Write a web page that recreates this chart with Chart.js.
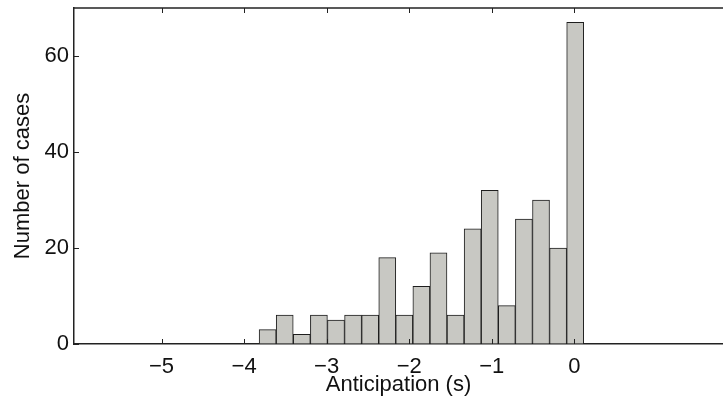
<!DOCTYPE html>
<html>
<head>
<meta charset="utf-8">
<script src="https://cdn.jsdelivr.net/npm/chart.js@4.4.1/dist/chart.umd.min.js"></script>
<style>
    html, body { margin: 0; padding: 0; background: #fff; }
    #wrap { width: 723px; height: 400px; }
</style>
</head>
<body>
<div id="wrap"><canvas id="histo" width="723" height="400"></canvas></div>
<script>
// centros de los bins (s) y número de casos por bin
const binCenters = [-3.715, -3.508, -3.301, -3.094, -2.887, -2.680, -2.473, -2.266, -2.060, -1.853,
                    -1.646, -1.439, -1.232, -1.025, -0.818, -0.611, -0.404, -0.197, 0.010];
const counts = [3, 6, 2, 6, 5, 6, 6, 18, 6, 12, 19, 6, 24, 32, 8, 26, 30, 20, 67];

const xTicks = [-5, -4, -3, -2, -1, 0];
const yTicks = [0, 20, 40, 60];
const xRange = [-6.06, 1.80];
const yRange = [0, 70];

const axisColor = '#222222';
const textColor = '#111111';
const fontFamily = '"Liberation Sans", Arial, Helvetica, sans-serif';

// ticks hacia dentro y borde superior (estilo MATLAB)
const matlabBox = {
    id: 'matlabBox',
    afterDatasetsDraw(chart) {
        const ctx = chart.ctx;
        const area = chart.chartArea;
        const x = chart.scales.x;
        const y = chart.scales.y;
        ctx.save();
        ctx.strokeStyle = axisColor;
        ctx.lineWidth = 1;
        ctx.beginPath();
        xTicks.forEach(function (v) {
            const px = Math.round(x.getPixelForValue(v)) + 0.5;
            ctx.moveTo(px, area.bottom);
            ctx.lineTo(px, area.bottom - 5);
            ctx.moveTo(px, area.top);
            ctx.lineTo(px, area.top + 5);
        });
        yTicks.forEach(function (v) {
            const py = Math.round(y.getPixelForValue(v)) + 0.5;
            ctx.moveTo(area.left, py);
            ctx.lineTo(area.left + 5, py);
        });
        ctx.stroke();
        ctx.lineWidth = 1.5;
        ctx.beginPath();
        ctx.moveTo(area.left, area.top);
        ctx.lineTo(area.right, area.top);
        ctx.stroke();
        ctx.restore();
    }
};

function noPadding(scale) {
    scale.paddingTop = 0;
    scale.paddingBottom = 0;
    scale.paddingLeft = 0;
    scale.paddingRight = 0;
}

const ctx = document.getElementById('histo').getContext('2d');

const chart = new Chart(ctx, {
    type: 'bar',
    data: {
        datasets: [{
            data: binCenters.map(function (c, i) { return { x: c, y: counts[i] }; }),
            backgroundColor: '#c8c8c3',
            borderColor: '#1e1e1e',
            borderWidth: 1,
            barPercentage: 1.0,
            categoryPercentage: 1.0
        }]
    },
    options: {
        responsive: false,
        animation: false,
        layout: { padding: { top: 8, right: 0, bottom: 0, left: 0 } },
        plugins: {
            legend: { display: false },
            tooltip: { enabled: false }
        },
        scales: {
            x: {
                type: 'linear',
                offset: false,
                min: xRange[0],
                max: xRange[1],
                afterBuildTicks: function (scale) {
                    scale.ticks = xTicks.map(function (v) { return { value: v }; });
                },
                afterFit: function (scale) { scale.height = 56; noPadding(scale); },
                grid: { display: true, drawOnChartArea: false, drawTicks: false, offset: false },
                border: { display: true, color: axisColor, width: 1.5 },
                ticks: {
                    color: textColor,
                    padding: 10,
                    maxRotation: 0,
                    font: { family: fontFamily, size: 22 },
                    callback: function (v) { return v < 0 ? '\u2212' + Math.abs(v) : '' + v; }
                },
                title: {
                    display: true,
                    text: 'Anticipation (s)',
                    color: textColor,
                    font: { family: fontFamily, size: 22 },
                    padding: { top: 0, bottom: 2 }
                }
            },
            y: {
                min: yRange[0],
                max: yRange[1],
                afterBuildTicks: function (scale) {
                    scale.ticks = yTicks.map(function (v) { return { value: v }; });
                },
                afterFit: function (scale) { scale.width = 74; noPadding(scale); },
                grid: { display: true, drawOnChartArea: false, drawTicks: false },
                border: { display: true, color: axisColor, width: 1.5 },
                ticks: {
                    color: textColor,
                    padding: 5,
                    font: { family: fontFamily, size: 22 }
                },
                title: {
                    display: true,
                    text: 'Number of cases',
                    color: textColor,
                    font: { family: fontFamily, size: 22 },
                    padding: { top: 10, bottom: 0 }
                }
            }
        }
    },
    plugins: [matlabBox]
});
</script>
</body>
</html>
